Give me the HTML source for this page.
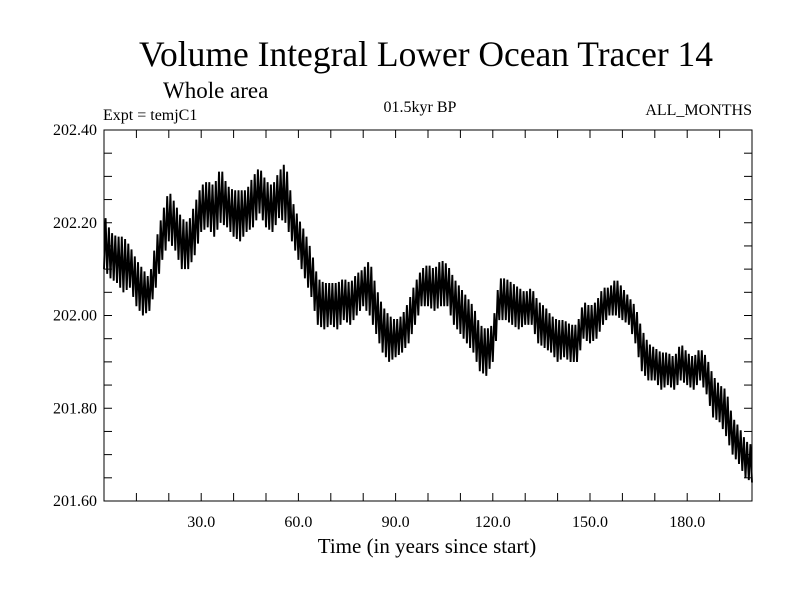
<!DOCTYPE html>
<html><head><meta charset="utf-8"><style>
body{margin:0;background:#fff}
svg text{font-family:"Liberation Serif",serif;fill:#000}
</style></head><body>
<svg width="800" height="600" xmlns="http://www.w3.org/2000/svg">
<rect width="800" height="600" fill="#fff"/>
<text x="426" y="66" font-size="35.5" text-anchor="middle">Volume Integral Lower Ocean Tracer 14</text>
<text x="163" y="98" font-size="23">Whole area</text>
<text x="103" y="120" font-size="16">Expt = temjC1</text>
<text x="420" y="112" font-size="16" text-anchor="middle">01.5kyr BP</text>
<text x="752" y="115" font-size="16" text-anchor="end">ALL_MONTHS</text>
<text x="427" y="553" font-size="21" text-anchor="middle">Time (in years since start)</text>
<g id="axes"></g>
<g id="series"></g>
<rect x="104" y="130" width="648" height="371" fill="none" stroke="#000" stroke-width="1"/>
</svg>
<script>
const years=[];for(let i=0;i<=100;i++)years.push(i*2);
const lows=[202.10,202.08,202.07,202.05,202.06,202.02,202.00,202.01,202.06,202.12,202.16,202.14,202.10,202.10,202.13,202.18,202.19,202.17,202.20,202.19,202.17,202.16,202.18,202.19,202.22,202.19,202.18,202.21,202.20,202.16,202.12,202.08,202.04,201.98,201.97,201.98,201.97,201.99,201.98,202.00,202.02,202.00,201.96,201.92,201.90,201.91,201.92,201.94,201.98,202.02,202.02,202.01,202.02,202.02,201.98,201.96,201.94,201.92,201.88,201.87,201.90,201.99,201.99,201.98,201.97,201.98,201.98,201.94,201.93,201.92,201.90,201.91,201.90,201.90,201.95,201.94,201.95,201.98,202.00,202.00,201.99,201.98,201.94,201.88,201.86,201.86,201.84,201.85,201.84,201.86,201.85,201.84,201.86,201.83,201.78,201.77,201.74,201.70,201.68,201.65,201.64];
const highs=[202.22,202.18,202.17,202.17,202.15,202.12,202.10,202.08,202.16,202.22,202.27,202.24,202.21,202.20,202.24,202.28,202.29,202.28,202.32,202.28,202.27,202.27,202.27,202.30,202.32,202.29,202.28,202.31,202.33,202.25,202.21,202.18,202.14,202.08,202.07,202.07,202.07,202.08,202.07,202.09,202.10,202.12,202.06,202.02,202.00,201.99,202.00,202.03,202.07,202.10,202.11,202.10,202.12,202.11,202.08,202.06,202.04,202.02,201.98,201.97,201.98,202.08,202.08,202.07,202.06,202.05,202.06,202.03,202.02,202.00,201.99,201.99,201.98,201.98,202.03,202.02,202.03,202.06,202.06,202.08,202.06,202.04,202.02,201.97,201.94,201.93,201.92,201.92,201.91,201.94,201.92,201.91,201.93,201.91,201.87,201.85,201.84,201.78,201.76,201.73,201.72];
const xTicks=[30,60,90,120,150,180];
const yTicks=[201.6,201.8,202.0,202.2,202.4];
const X0=104,X1=752,Y0=501,Y1=130;
const sx=v=>X0+(v-0)/(200-0)*(X1-X0);
const sy=v=>Y0-(v-201.6)/(202.4-201.6)*(Y0-Y1);
const NS="http://www.w3.org/2000/svg";
const ax=document.getElementById('axes');
function mk(tag,attrs,parent){const e=document.createElementNS(NS,tag);for(const k in attrs)e.setAttribute(k,attrs[k]);parent.appendChild(e);return e;}
for(let t=10;t<200;t+=10){
 const l=mk('line',{x1:sx(t),x2:sx(t),y1:Y0,y2:Y0-8,stroke:'#000'},ax);
 
 
 const l2=mk('line',{x1:sx(t),x2:sx(t),y1:Y1,y2:Y1+8,stroke:'#000'},ax);
 
 
}
xTicks.forEach(t=>{
 const tx=mk('text',{x:sx(t),y:527,'font-size':16,'text-anchor':'middle'},ax);tx.textContent=t.toFixed(1);
 
 
});
for(let v=201.65;v<202.39;v+=0.05){
 const l=mk('line',{x1:X0,x2:X0+8,y1:sy(v),y2:sy(v),stroke:'#000'},ax);
 
 
 const l2=mk('line',{x1:X1,x2:X1-8,y1:sy(v),y2:sy(v),stroke:'#000'},ax);
 
 
}
yTicks.forEach(v=>{
 const tx=mk('text',{x:97,y:sy(v)+5,'font-size':16,'text-anchor':'end'},ax);tx.textContent=v.toFixed(2);
 
 
});
let pts=[];let k=0;
for(let i=0;i<years.length-1;i++){
 for(let j=0;j<4;j++){
  const f=j/4;const yr=years[i]+f*(years[i+1]-years[i]);
  const lo=lows[i]+f*(lows[i+1]-lows[i]);const hi=highs[i]+f*(highs[i+1]-highs[i]);
  pts.push(sx(yr).toFixed(1)+','+sy(k%2?hi:lo).toFixed(1));k++;
 }
}
pts.push(sx(years[years.length-1]).toFixed(1)+','+sy(lows[lows.length-1]).toFixed(1));
const pl=mk('polyline',{points:pts.join(' '),fill:'none',stroke:'#000','stroke-width':1.9},document.getElementById('series'));


</script>
</body></html>
